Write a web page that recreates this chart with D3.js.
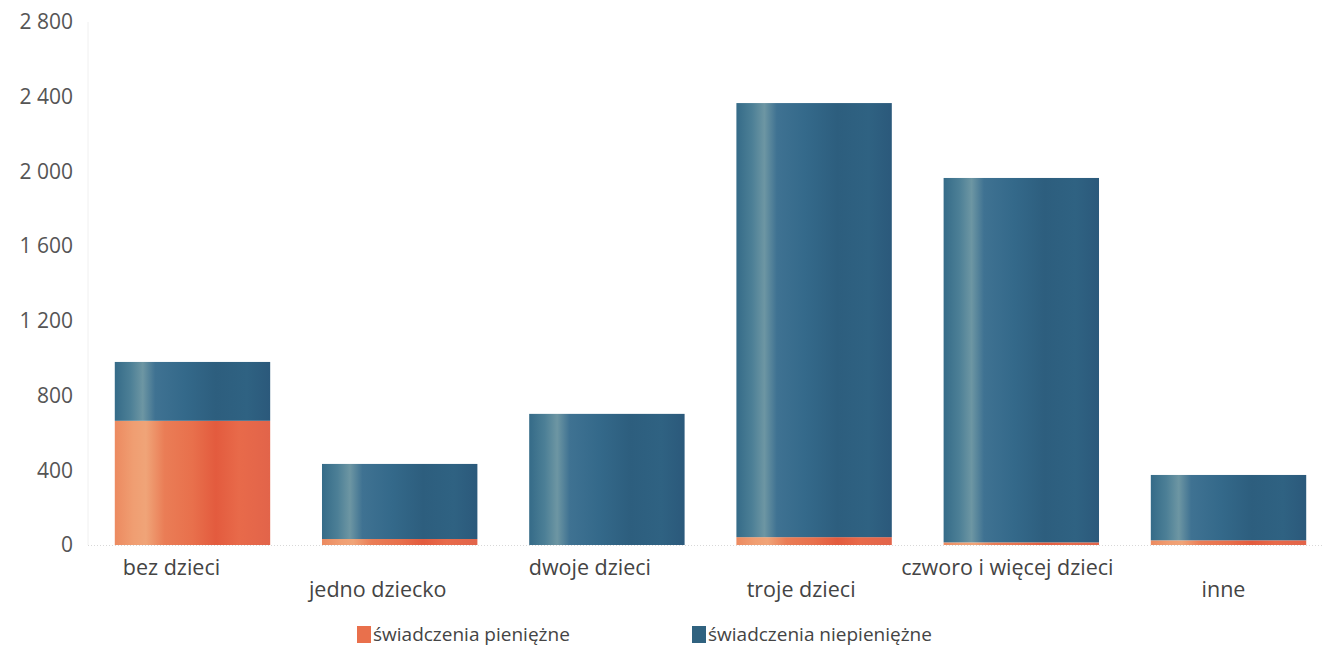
<!DOCTYPE html>
<html>
<head>
<meta charset="utf-8">
<script src="https://cdn.jsdelivr.net/npm/d3@7"></script>
<style>
  html, body { margin: 0; padding: 0; background: #fff; }
  svg { display: block; font-family: "Open Sans", "Noto Sans", sans-serif; }
</style>
</head>
<body>
<svg id="chart" width="1322" height="647"></svg>
<script>
// ---- data ----
const categories = ["bez dzieci", "jedno dziecko", "dwoje dzieci", "troje dzieci", "czworo i więcej dzieci", "inne"];
const pieniezne = [665, 32, 0, 42, 14, 25];
const niepieniezne = [315, 402, 702, 2324, 1951, 350];
const seriesNames = ["świadczenia pieniężne", "świadczenia niepieniężne"];
const yTicks = [0, 400, 800, 1200, 1600, 2000, 2400, 2800];

// ---- layout ----
const svg = d3.select("#chart");
const W = 1322, H = 647;
const y0 = 545, y1 = 22;

const locale = d3.formatLocale({ decimal: ",", thousands: " ", grouping: [3], currency: ["", " zł"] });
const fmt = locale.format(",d");

const x = d3.scaleBand().domain(categories).range([102, 1319]).paddingInner(0.25).paddingOuter(0.0617);
const y = d3.scaleLinear().domain([0, 2800]).range([y0, y1]);

// gradients
const defs = svg.append("defs");
function grad(id, stops) {
  const g = defs.append("linearGradient").attr("id", id).attr("x1", "0%").attr("x2", "100%").attr("y1", "0%").attr("y2", "0%");
  stops.forEach(s => g.append("stop").attr("offset", s[0]).attr("stop-color", s[1]));
}
grad("gOrange", [["0%", "#ec8a60"], ["12%", "#f09e72"], ["20%", "#f0a478"], ["32%", "#ea7d56"], ["50%", "#e8704c"], ["65%", "#e35b3e"], ["80%", "#e86a4a"], ["100%", "#e2644a"]]);
grad("gBlue", [["0%", "#356b88"], ["10%", "#4c7f96"], ["18%", "#6d96a3"], ["26%", "#3f7292"], ["45%", "#34698a"], ["65%", "#2d5e7e"], ["85%", "#2f6282"], ["100%", "#2b597b"]]);

// y axis light line
svg.append("line").attr("x1", 88).attr("x2", 88).attr("y1", y1).attr("y2", y0)
  .attr("stroke", "#f0f0f0").attr("stroke-width", 1);

// baseline dotted
svg.append("line").attr("x1", 88).attr("x2", W).attr("y1", y0 + 0.5).attr("y2", y0 + 0.5)
  .attr("stroke", "#d8d8d8").attr("stroke-width", 1).attr("stroke-dasharray", "1,2");

// y axis tick labels
const yAxis = d3.axisLeft(y).tickValues(yTicks).tickFormat(fmt).tickSize(0).tickPadding(0);
const ya = svg.append("g").attr("transform", "translate(73,0)").call(yAxis);
ya.select(".domain").remove();
ya.selectAll("text").attr("font-size", 21).attr("fill", "#555").attr("font-family", "'Open Sans', sans-serif");

// stacked data
const stackData = categories.map((c, i) => ({ cat: c, p: pieniezne[i], n: niepieniezne[i] }));
const stack = d3.stack().keys(["p", "n"])(stackData);
const fills = ["url(#gOrange)", "url(#gBlue)"];

svg.append("g").selectAll("g").data(stack).join("g")
  .attr("fill", (d, i) => fills[i])
  .selectAll("rect").data(d => d).join("rect")
  .attr("x", d => x(d.data.cat))
  .attr("width", x.bandwidth())
  .attr("y", d => y(d[1]))
  .attr("height", d => Math.max(0, y(d[0]) - y(d[1])));

// x labels (staggered)
const xOff = [-21, -22, -17, -13, -14, -5];
svg.append("g").selectAll("text").data(categories).join("text")
  .attr("x", (d, i) => x(d) + x.bandwidth() / 2 + xOff[i])
  .attr("y", (d, i) => i % 2 === 0 ? 575 : 597)
  .attr("text-anchor", "middle")
  .attr("font-size", 21.5)
  .attr("fill", "#444")
  .text(d => d);

// legend
const legX = [357, 692];
const legFill = ["#e9704c", "#30627f"];
const leg = svg.append("g").selectAll("g").data(seriesNames).join("g")
  .attr("transform", (d, i) => `translate(${legX[i]},0)`);
leg.append("rect").attr("x", 0).attr("y", 626).attr("width", 14).attr("height", 17)
  .attr("fill", (d, i) => legFill[i]);
leg.append("text").attr("x", 16).attr("y", 641).attr("font-size", 19).attr("fill", "#444").text(d => d);
</script>
</body>
</html>
